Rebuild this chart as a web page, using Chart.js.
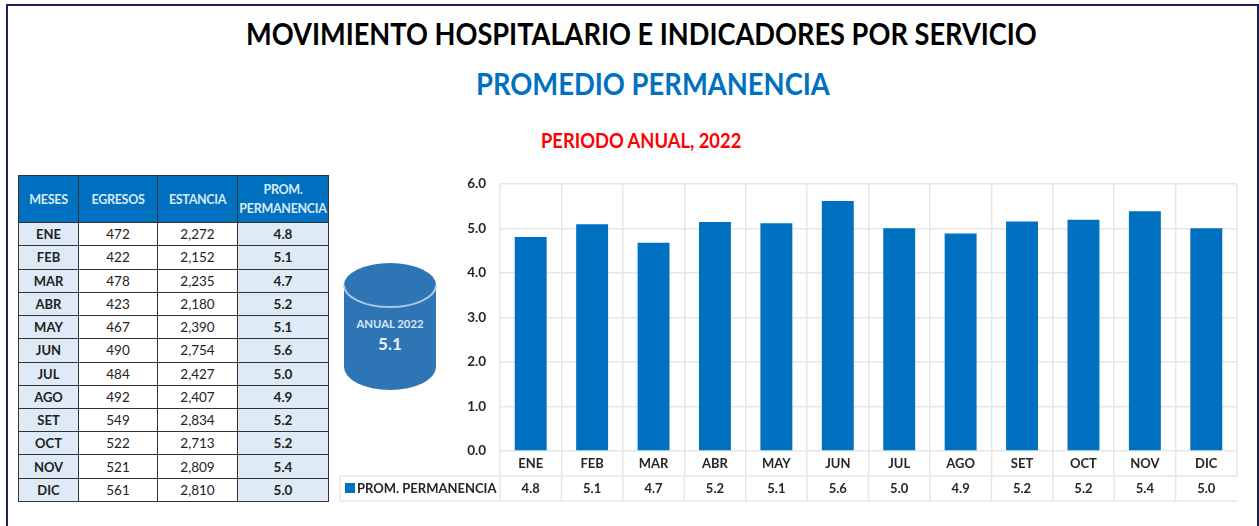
<!DOCTYPE html>
<html lang="es"><head><meta charset="utf-8">
<script src="https://cdn.jsdelivr.net/npm/chart.js@4"></script>
<style>
html,body{margin:0;padding:0;background:#fff;overflow:hidden}
body{width:1259px;height:526px;position:relative;font-family:Lato,sans-serif}
#frame{position:absolute;left:6px;top:4px;width:1249px;height:530px;border:2px solid #1f1f5c;box-sizing:content-box}
.t{position:absolute;text-align:center;font-weight:700;white-space:nowrap;transform-origin:left top}
#t1{left:246px;top:14px;font-size:30px;line-height:38px;color:#000;transform:scaleX(.906)}
#t2{left:476px;top:64px;font-size:30px;line-height:38px;color:#0070c0;transform:scaleX(.912)}
#t3{left:541px;top:126px;font-size:20px;line-height:28px;color:#f00;transform:scaleX(.917)}
table{position:absolute;left:18px;top:175px;width:310px;height:327px;border-collapse:collapse;table-layout:fixed;font-size:13.5px;color:#222}
td,th{border:1.5px solid #333;padding:0;text-align:center;overflow:hidden;white-space:nowrap}
th{background:#0070c0;color:#dbe8f5;font-size:12.5px;line-height:19px;font-weight:700;height:45px;letter-spacing:-.3px}
td{height:21.7px;line-height:18px}
td.s{background:#deeaf6;font-weight:700;font-size:13px}
td.v{background:#deeaf6;font-weight:700}
#cyl{position:absolute;left:342px;top:261px}
#wrap{position:absolute;left:338px;top:162px;width:905px;height:346px}
</style></head><body>
<div id="frame"></div>
<div class="t" id="t1">MOVIMIENTO HOSPITALARIO E INDICADORES POR SERVICIO</div>
<div class="t" id="t2">PROMEDIO PERMANENCIA</div>
<div class="t" id="t3">PERIODO ANUAL, 2022</div>
<table id="tb"></table>
<svg id="cyl" width="96" height="132" font-family="Lato,sans-serif" text-anchor="middle">
<path d="M2 24 A46 22 0 0 1 94 24 V106 A46 23 0 0 1 2 106 Z" fill="#2e75b6"/>
<path d="M2 24 A46 22 0 0 0 94 24" fill="none" stroke="#a9c8e6" stroke-width="2"/>
<text x="48" y="67" font-size="11.3" font-weight="700" fill="#dbe8f5">ANUAL 2022</text>
<text x="48" y="89" font-size="17" font-weight="700" fill="#eaf2fa">5.1</text>
</svg>
<div id="wrap"><canvas id="c" width="905" height="346"></canvas></div>
<script>
const categories=['ENE','FEB','MAR','ABR','MAY','JUN','JUL','AGO','SET','OCT','NOV','DIC'];
const egresos=[472,422,478,423,467,490,484,492,549,522,521,561];
const estancia=['2,272','2,152','2,235','2,180','2,390','2,754','2,427','2,407','2,834','2,713','2,809','2,810'];
const promLabels=['4.8','5.1','4.7','5.2','5.1','5.6','5.0','4.9','5.2','5.2','5.4','5.0'];
const promedio=[4.81,5.10,4.68,5.15,5.12,5.62,5.01,4.89,5.16,5.20,5.39,5.01];
const yTicks=[0,1,2,3,4,5,6];
const seriesName='PROM. PERMANENCIA';

let h='<colgroup><col style="width:60px"><col style="width:79px"><col style="width:80px"><col style="width:91px"></colgroup>';
h+='<tr><th>MESES</th><th>EGRESOS</th><th>ESTANCIA</th><th>PROM.<br>PERMANENCIA</th></tr>';
categories.forEach((m,i)=>{h+=`<tr><td class="s">${m}</td><td>${egresos[i]}</td><td>${estancia[i]}</td><td class="v">${promLabels[i]}</td></tr>`;});
document.getElementById('tb').innerHTML=h;

const GRID='#e6e6e6',INK='#262626',FONT='Lato, sans-serif';
const dataTable={id:'dataTable',afterDraw(ch){
  const c=ch.ctx,x=ch.scales.x,a=ch.chartArea;
  const rowTop=a.bottom+25,rowBot=a.bottom+50,boxL=2;
  const step=(a.right-a.left)/categories.length;
  c.save();
  c.strokeStyle=GRID;c.lineWidth=1.5;
  c.beginPath();
  c.moveTo(boxL,rowTop);c.lineTo(a.right,rowTop);
  c.moveTo(boxL,rowBot);c.lineTo(a.right,rowBot);
  c.moveTo(boxL,rowTop);c.lineTo(boxL,rowBot);
  for(let i=0;i<categories.length;i++){const p=a.left+i*step;c.moveTo(p,rowTop);c.lineTo(p,rowBot);}
  c.stroke();
  c.fillStyle='#0070c0';c.fillRect(boxL+5,rowTop+7,10,10);
  c.fillStyle=INK;c.font='700 13px '+FONT;c.textBaseline='middle';c.textAlign='left';
  c.fillText(seriesName,boxL+17,rowTop+12.5);
  c.textAlign='center';
  promLabels.forEach((v,i)=>c.fillText(v,x.getPixelForValue(i),rowTop+12.5));
  c.restore();
}};
new Chart(document.getElementById('c'),{
  type:'bar',
  data:{labels:categories,datasets:[{label:seriesName,data:promedio,backgroundColor:'#0070c0',
    borderWidth:0,barPercentage:.52,categoryPercentage:1}]},
  plugins:[dataTable],
  options:{responsive:false,animation:false,
    layout:{padding:{left:0,right:6,top:0,bottom:0}},
    plugins:{legend:{display:false},tooltip:{enabled:false}},
    scales:{
      x:{afterFit(s){s.height=57;},
        grid:{color:ctx=>ctx.index===categories.length?'rgba(0,0,0,0)':GRID,lineWidth:1.5,tickLength:25,offset:true,drawTicks:true},
        border:{display:false},
        ticks:{color:INK,font:{family:FONT,size:13,weight:'700'},padding:-20,maxRotation:0,autoSkip:false}},
      y:{min:0,max:6,afterFit(s){s.width=162;},
        afterBuildTicks(s){s.ticks=yTicks.map(v=>({value:v}));},
        grid:{color:GRID,lineWidth:1.5,tickLength:0},
        border:{display:false},
        ticks:{color:INK,font:{family:FONT,size:13.5,weight:'700'},padding:14,callback:v=>v.toFixed(1)}}
    }}
});
</script>
</body></html>
